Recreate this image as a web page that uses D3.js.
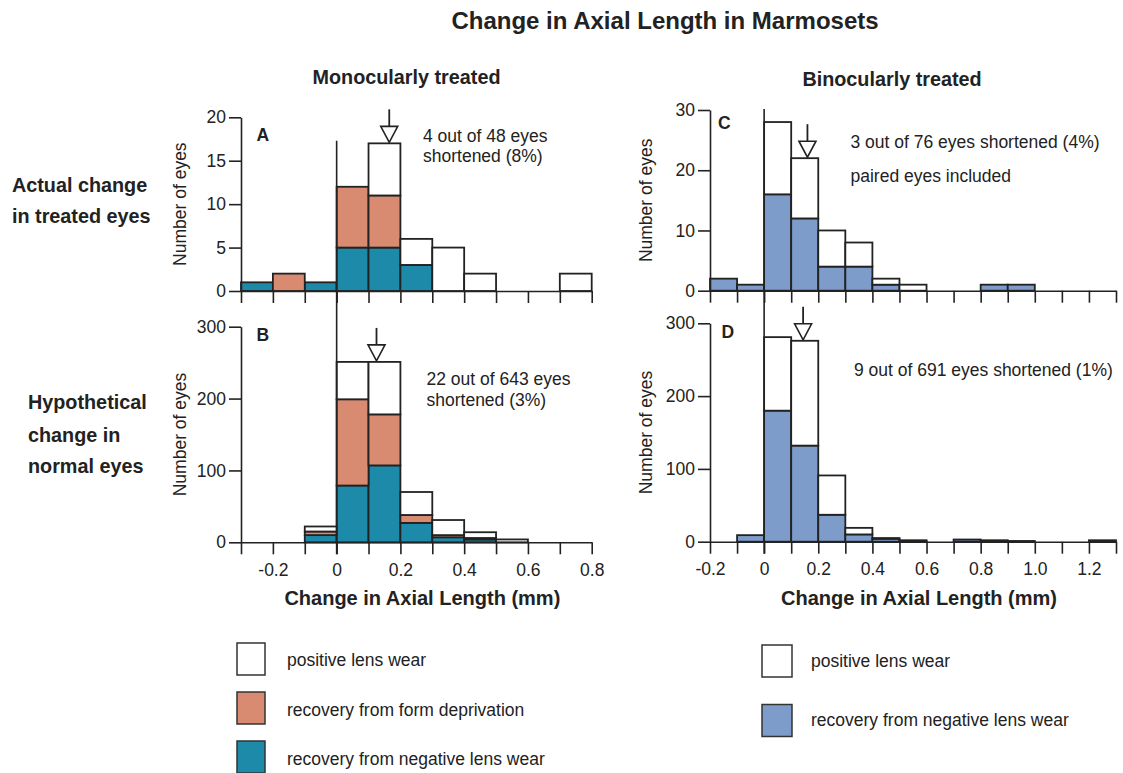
<!DOCTYPE html>
<html>
<head>
<meta charset="utf-8">
<script src="https://cdn.jsdelivr.net/npm/d3@7"></script>
<style>
  body { margin: 0; background: #fff; }
  text { font-family: "Liberation Sans", Arial, Helvetica, sans-serif; fill: #222; }
</style>
</head>
<body>
<script>
var w = 1123;
var h = 773;

// bin starts (0.1 mm wide) and tick values
var binsMono = [-0.3, -0.2, -0.1, 0, 0.1, 0.2, 0.3, 0.4, 0.5, 0.6, 0.7];
var binsBino = [-0.2, -0.1, 0, 0.1, 0.2, 0.3, 0.4, 0.5, 0.6, 0.7, 0.8, 0.9, 1.0, 1.1, 1.2];
var xTicksMono = [-0.3, -0.2, -0.1, 0, 0.1, 0.2, 0.3, 0.4, 0.5, 0.6, 0.7, 0.8];
var xTicksBino = [-0.2, -0.1, 0, 0.1, 0.2, 0.3, 0.4, 0.5, 0.6, 0.7, 0.8, 0.9, 1.0, 1.1, 1.2, 1.3];
var xLabelsMono = [-0.2, 0, 0.2, 0.4, 0.6, 0.8];
var xLabelsBino = [-0.2, 0, 0.2, 0.4, 0.6, 0.8, 1.0, 1.2];

// A: monocular, actual change in treated eyes
var negA  = [1, 0, 1, 5, 5, 3, 0, 0, 0, 0, 0];
var formA = [0, 2, 0, 7, 6, 0, 0, 0, 0, 0, 0];
var posA  = [0, 0, 0, 0, 6, 3, 5, 2, 0, 0, 2];
var yTicksA = [0, 5, 10, 15, 20];

// B: monocular, hypothetical change in normal eyes
var negB  = [0, 0, 10, 79, 107, 27, 7, 4, 0, 0, 0];
var formB = [0, 0, 5, 120, 71, 11, 3, 2, 0, 0, 0];
var posB  = [0, 0, 7, 52, 73, 32, 21, 8, 4, 0, 0];
var yTicksB = [0, 100, 200, 300];

// C: binocular, actual change
var negC = [2, 1, 16, 12, 4, 4, 1, 0, 0, 0, 1, 1, 0, 0, 0];
var posC = [0, 0, 12, 10, 6, 4, 1, 1, 0, 0, 0, 0, 0, 0, 0];
var yTicksC = [0, 10, 20, 30];

// D: binocular, hypothetical change
var negD = [0, 9, 180, 132, 37, 10, 4, 1, 0, 3, 1, 1, 0, 0, 2];
var posD = [0, 0, 101, 144, 54, 9, 1, 1, 0, 0, 1, 0, 0, 0, 0];
var yTicksD = [0, 100, 200, 300];

// median change (arrows)
var arrowA = 0.165;
var arrowB = 0.125;
var arrowC = 0.16;
var arrowD = 0.144;

var legendMono = ["positive lens wear", "recovery from form deprivation", "recovery from negative lens wear"];
var legendBino = ["positive lens wear", "recovery from negative lens wear"];

var colors = {
    pos: "#ffffff",
    form: "#d98b71",
    neg: "#1e8aa9",
    negBino: "#7d9cc9"
};

var svg = d3.select("body")
    .append("svg")
    .attr("width", w)
    .attr("height", h);

svg.append("rect").attr("width", w).attr("height", h).attr("fill", "#fff");

function drawPanel(p){
    var x = d3.scaleLinear().domain(p.xDomain).range([p.left, p.right]);
    var y = d3.scaleLinear().domain([0, p.yTicks[p.yTicks.length - 1]]).range([p.bottom, p.top]);

    // table of rows for the stack
    var rows = p.bins.map(function(b, i){
        var r = {x0: b};
        p.keys.forEach(function(k){ r[k] = p.series[k][i]; });
        return r;
    });
    var stacked = d3.stack().keys(p.keys)(rows);

    var g = svg.append("g");

    g.selectAll("g.layer")
        .data(stacked)
        .enter()
        .append("g")
        .attr("class", "layer")
        .attr("fill", function(d){ return p.colors[d.key]; })
        .selectAll("rect")
        .data(function(d){ return d.filter(function(s){ return s[1] - s[0] > 0; }); })
        .enter()
        .append("rect")
        .attr("x", function(d){ return x(d.data.x0); })
        .attr("width", function(d){ return x(d.data.x0 + 0.1) - x(d.data.x0); })
        .attr("y", function(d){ return y(d[1]); })
        .attr("height", function(d){ return y(d[0]) - y(d[1]); })
        .attr("stroke", "#222")
        .attr("stroke-width", 1.8);

    var xAxis = d3.axisBottom(x)
        .tickValues(p.xTicks)
        .tickSize(12)
        .tickSizeOuter(0)
        .tickPadding(9)
        .tickFormat(function(d){
            if(!p.xLabels) return "";
            var show = p.xLabels.some(function(l){ return Math.abs(l - d) < 1e-9; });
            if(!show) return "";
            return Math.abs(d) < 1e-9 ? "0" : d.toFixed(1);
        });

    var yAxis = d3.axisLeft(y)
        .tickValues(p.yTicks)
        .tickSize(12)
        .tickSizeOuter(0)
        .tickPadding(3);

    var ax = g.append("g")
        .attr("transform", "translate(0," + p.bottom + ")")
        .call(xAxis);
    var ay = g.append("g")
        .attr("transform", "translate(" + p.left + ",0)")
        .call(yAxis);

    [ax, ay].forEach(function(a){
        a.selectAll("path, line").attr("stroke", "#222").attr("stroke-width", 1.6);
        a.selectAll("text")
            .style("font-family", "'Liberation Sans', Arial, sans-serif")
            .style("font-size", "17.5px")
            .attr("fill", "#222");
    });

    // arrow pointing at the bin that holds the median
    var bi = p.bins.findIndex(function(b){ return p.arrowAt >= b && p.arrowAt < b + 0.1; });
    var tot = 0;
    p.keys.forEach(function(k){ tot += p.series[k][bi]; });
    var ax0 = x(p.arrowAt);
    var tip = y(tot) - 1;
    g.append("line")
        .attr("x1", ax0).attr("x2", ax0)
        .attr("y1", tip - 33).attr("y2", tip - 16)
        .attr("stroke", "#222").attr("stroke-width", 1.8);
    g.append("path")
        .attr("d", "M" + (ax0 - 8.5) + "," + (tip - 16) + "L" + (ax0 + 8.5) + "," + (tip - 16) + "L" + ax0 + "," + tip + "Z")
        .attr("fill", "#fff")
        .attr("stroke", "#222")
        .attr("stroke-width", 1.6);

    // panel letter
    g.append("text")
        .attr("x", p.letterPos[0]).attr("y", p.letterPos[1])
        .style("font-size", "17.5px").style("font-weight", "bold")
        .text(p.letter);

    // note text
    p.notes.forEach(function(n){
        g.append("text")
            .attr("x", n[0]).attr("y", n[1])
            .style("font-size", "17.5px")
            .text(n[2]);
    });

    // y axis label
    g.append("text")
        .attr("transform", "translate(" + p.yLabelX + "," + ((p.top + p.bottom) / 2) + ") rotate(-90)")
        .attr("text-anchor", "middle")
        .attr("dy", "0.35em")
        .style("font-size", "17.5px")
        .text("Number of eyes");

    if(p.xTitle){
        g.append("text")
            .attr("x", (p.left + p.right) / 2 + 6)
            .attr("y", 605)
            .attr("text-anchor", "middle")
            .style("font-size", "20px").style("font-weight", "bold")
            .text("Change in Axial Length (mm)");
    }

    return x;
}

var xA = drawPanel({
    left: 241, right: 591.7, top: 117.3, bottom: 291,
    xDomain: [-0.3, 0.8], bins: binsMono, xTicks: xTicksMono, xLabels: null, yTicks: yTicksA,
    keys: ["neg", "form", "pos"], series: {neg: negA, form: formA, pos: posA},
    colors: {neg: colors.neg, form: colors.form, pos: colors.pos},
    arrowAt: arrowA, letter: "A", letterPos: [256.5, 140.7],
    notes: [[423, 141.5, "4 out of 48 eyes"], [423, 161.5, "shortened (8%)"]],
    yLabelX: 180, xTitle: false
});

drawPanel({
    left: 241, right: 591.7, top: 326.7, bottom: 542.3,
    xDomain: [-0.3, 0.8], bins: binsMono, xTicks: xTicksMono, xLabels: xLabelsMono, yTicks: yTicksB,
    keys: ["neg", "form", "pos"], series: {neg: negB, form: formB, pos: posB},
    colors: {neg: colors.neg, form: colors.form, pos: colors.pos},
    arrowAt: arrowB, letter: "B", letterPos: [256.5, 340.7],
    notes: [[426.5, 385, "22 out of 643 eyes"], [426.5, 405.5, "shortened (3%)"]],
    yLabelX: 180, xTitle: true
});

var xC = drawPanel({
    left: 710, right: 1116, top: 110, bottom: 290.7,
    xDomain: [-0.2, 1.3], bins: binsBino, xTicks: xTicksBino, xLabels: null, yTicks: yTicksC,
    keys: ["neg", "pos"], series: {neg: negC, pos: posC},
    colors: {neg: colors.negBino, pos: colors.pos},
    arrowAt: arrowC, letter: "C", letterPos: [718, 129],
    notes: [[850.5, 147.5, "3 out of 76 eyes shortened (4%)"], [850.5, 182, "paired eyes included"]],
    yLabelX: 646, xTitle: false
});

drawPanel({
    left: 710, right: 1116, top: 323.3, bottom: 541.7,
    xDomain: [-0.2, 1.3], bins: binsBino, xTicks: xTicksBino, xLabels: xLabelsBino, yTicks: yTicksD,
    keys: ["neg", "pos"], series: {neg: negD, pos: posD},
    colors: {neg: colors.negBino, pos: colors.pos},
    arrowAt: arrowD, letter: "D", letterPos: [721.5, 338.3],
    notes: [[854, 375.5, "9 out of 691 eyes shortened (1%)"]],
    yLabelX: 646, xTitle: true
});

// zero reference lines running through both rows
svg.append("line")
    .attr("x1", xA(0)).attr("x2", xA(0))
    .attr("y1", 140.7).attr("y2", 554.3)
    .attr("stroke", "#222").attr("stroke-width", 1.6);
svg.append("line")
    .attr("x1", xC(0)).attr("x2", xC(0))
    .attr("y1", 109).attr("y2", 553.7)
    .attr("stroke", "#222").attr("stroke-width", 1.6);

// titles
svg.append("text")
    .attr("x", 665).attr("y", 29)
    .attr("text-anchor", "middle")
    .style("font-size", "24px").style("font-weight", "bold")
    .text("Change in Axial Length in Marmosets");
svg.append("text")
    .attr("x", 406.5).attr("y", 83.5)
    .attr("text-anchor", "middle")
    .style("font-size", "19.8px").style("font-weight", "bold")
    .text("Monocularly treated");
svg.append("text")
    .attr("x", 892).attr("y", 85.5)
    .attr("text-anchor", "middle")
    .style("font-size", "19.8px").style("font-weight", "bold")
    .text("Binocularly treated");

// row labels
[["Actual change", 12, 192.3], ["in treated eyes", 12, 223.3],
 ["Hypothetical", 28, 409.3], ["change in", 28, 441.5], ["normal eyes", 28, 472.5]].forEach(function(r){
    svg.append("text")
        .attr("x", r[1]).attr("y", r[2])
        .style("font-size", "19.8px").style("font-weight", "bold")
        .text(r[0]);
});

// legends
var legL = svg.append("g");
legL.selectAll("rect")
    .data(legendMono)
    .enter()
    .append("rect")
    .attr("x", 237)
    .attr("y", function(d, i){ return 643 + i * 49; })
    .attr("width", 28).attr("height", 32)
    .attr("fill", function(d, i){ return [colors.pos, colors.form, colors.neg][i]; })
    .attr("stroke", "#333").attr("stroke-width", 1.5);
legL.selectAll("text")
    .data(legendMono)
    .enter()
    .append("text")
    .attr("x", 287)
    .attr("y", function(d, i){ return 666 + i * 49.5; })
    .style("font-size", "17.5px")
    .text(function(d){ return d; });

var legR = svg.append("g");
legR.selectAll("rect")
    .data(legendBino)
    .enter()
    .append("rect")
    .attr("x", 762)
    .attr("y", function(d, i){ return 645 + i * 59.5; })
    .attr("width", 30).attr("height", 32)
    .attr("fill", function(d, i){ return [colors.pos, colors.negBino][i]; })
    .attr("stroke", "#333").attr("stroke-width", 1.5);
legR.selectAll("text")
    .data(legendBino)
    .enter()
    .append("text")
    .attr("x", 811)
    .attr("y", function(d, i){ return 667 + i * 59; })
    .style("font-size", "17.5px")
    .text(function(d){ return d; });
</script>
</body>
</html>
